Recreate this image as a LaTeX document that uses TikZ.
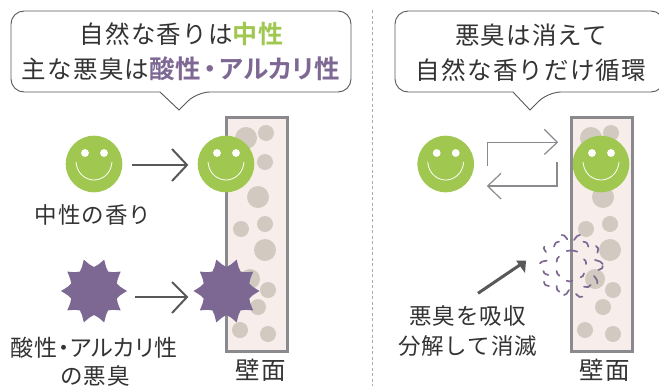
\documentclass[tikz,border=0pt]{standalone}
\usepackage{fontspec}
\newfontfamily\jp[LetterSpace=5]{Noto Sans CJK JP}
\newfontfamily\jpsm[LetterSpace=4]{Noto Sans CJK JP}
\newfontfamily\jppal[RawFeature=+palt,LetterSpace=2.5]{Noto Sans CJK JP}
\newfontfamily\jpb[BoldFont={Noto Sans CJK JP Bold},RawFeature=+palt,LetterSpace=2]{Noto Sans CJK JP}
\definecolor{leaf}{HTML}{A0C850}
\definecolor{odor}{HTML}{7D6894}
\definecolor{inkc}{HTML}{333333}
\definecolor{wallc}{HTML}{F7EEEB}
\definecolor{frame}{HTML}{8A8A8E}
\definecolor{grain}{HTML}{D2CAC0}
\definecolor{arrowc}{HTML}{58585A}
\tikzset{
  x=1pt,y=-1pt,
  bubble/.style={draw=arrowc,line width=0.9pt,fill=white},
  lab/.style={inner sep=0pt,text=inkc,anchor=center},
  head/.style={font=\jp\fontsize{24.5}{24.5}\selectfont},
  small/.style={font=\jpsm\fontsize{22.5}{22.5}\selectfont},
  flow/.style={draw=arrowc,line width=2pt},
  thin flow/.style={draw=frame,line width=1.2pt},
  wisp/.style={draw=odor,line width=1.7pt,line cap=round},
  smiley/.pic={
    \fill[leaf] (0,0) circle[radius=28.3];
    \fill[white] (-9,-11) circle[radius=3.9] (10,-11) circle[radius=3.9];
    \draw[white,line width=0.8pt] (-18,-2) .. controls (-17,10) and (-8,16) .. (0,16) .. controls (8,16) and (17,10) .. (18,-2);
  },
  burst/.pic={
    \fill[odor] (0:33)
      \foreach \a in {0,36,...,324}{
        .. controls (\a+10:26) .. (\a+18:24) .. controls (\a+26:26) .. (\a+36:33)
      } -- cycle;
  }
}
\newcommand{\grains}[1]{%
  \begin{scope}[xshift=#1]
  \fill[grain]
    (246,138) circle[radius=11] (266,133) circle[radius=8]
    (265,162) circle[radius=8] (258,197) circle[radius=11]
    (241,229) circle[radius=8] (265,224) circle[radius=8]
    (265,250) circle[radius=11] (250,279) circle[radius=10]
    (268,290) circle[radius=8] (258,307) circle[radius=8]
    (240,330) circle[radius=8] (268,334) circle[radius=8];
  \end{scope}}
\begin{document}
\begin{tikzpicture}
\useasboundingbox (0,0) rectangle (659,386);
\clip (0,0) rectangle (659,386);
% divider
\coordinate (divtop) at (372.5,10);
\coordinate (divbot) at (372.5,386);
\draw[draw=frame!70,line width=0.7pt,dash pattern=on 3pt off 2.5pt] (divtop) -- (divbot);
% bubbles
\draw[bubble,rounded corners=13pt] (160,92) -- (11,92) -- (11,11) -- (351,11) -- (351,92) -- (197,92) [sharp corners] -- (179,110) -- cycle;
\draw[bubble,rounded corners=13pt] (513,92) -- (395,92) -- (395,11) -- (664,11) -- (664,92) -- (548,92) [sharp corners] -- (530,110) -- cycle;
\node[lab,head] (l1) at (181.5,34) {自然な香りは{\jpb\bfseries\fontsize{25}{25}\selectfont\color{leaf}中性}};
\node[lab,head] (l2) at (181,69) {主な悪臭は{\jpb\bfseries\fontsize{25.5}{25.5}\selectfont\color{odor}酸性\kern3pt・\kern3ptアルカリ性}};
\node[lab,head] (r1) at (531,35) {悪臭は消えて};
\node[lab,head] (r2) at (531,70) {自然な香りだけ循環};
% walls
\draw[fill=wallc,draw=frame,line width=3pt] (226.5,117.5) rectangle (287.5,351);
\draw[fill=wallc,draw=frame,line width=3pt] (571.5,117.5) rectangle (632.5,351);
\grains{0pt}
\grains{345pt}
% left panel
\pic at (94,164) {smiley};
\pic at (226,164) {smiley};
\coordinate (a1s) at (132,165); \coordinate (a1e) at (187,165);
\draw[flow] (a1s) -- (a1e);
\draw[flow] (172,149) -- (a1e) -- (172,181);
\node[lab,small] (neutral) at (93,215) {中性の香り};
\pic at (94,291) {burst};
\pic at (226.5,291) {burst};
\coordinate (a2s) at (135,297); \coordinate (a2e) at (187,297);
\draw[flow] (a2s) -- (a2e);
\draw[flow] (172,282) -- (a2e) -- (172,313);
\node[lab,font=\jppal\fontsize{23}{23}\selectfont] (acid) at (94,348) {酸性・アルカリ性};
\node[lab,small] (acid2) at (95,376) {の悪臭};
\node[lab,font=\jp\fontsize{24.5}{24.5}\selectfont] (wall1) at (260.5,370) {壁面};
% right panel
\pic at (445.7,164) {smiley};
\pic at (601,164) {smiley};
\coordinate (c1s) at (487.7,165.7); \coordinate (c1e) at (557.3,142.3);
\draw[thin flow] (c1s) |- (c1e);
\draw[thin flow] (544.3,129.3) -- (c1e) -- (544.3,154.5);
\coordinate (c2s) at (557,161.7); \coordinate (c2e) at (487.7,186);
\draw[thin flow] (c2s) |- (c2e);
\draw[thin flow] (501,173.3) -- (c2e) -- (501,199);
\coordinate (bs) at (478,293.3); \coordinate (be) at (526,260.7);
\draw[arrowc,line width=3pt] (bs) -- (522,263.5);
\fill[arrowc] (be) -- (516,260.5) -- (525,273) -- cycle;
% fading odour
\foreach \xa/\ya/\xb/\yb in {
 575/135/592/148, 612/150/630/135, 640/155/655/170, 678/168/682/188,
 590/183/622/185, 552/170/567/155, 523/170/528/186, 510/220/530/212,
 560/215/567/200, 642/208/648/222, 675/210/698/222, 698/228/685/240,
 520/243/535/255, 560/243/568/257, 632/262/642/250, 590/272/607/272,
 672/258/682/280, 642/290/662/285, 522/275/537/288, 560/288/568/305,
 582/315/597/300, 618/312/637/320}{
  \draw[wisp] ({370+\xa/3},{190+\ya/3})
    .. controls ({370+(\xa+\xb)/6+((\xa+\xb)/2-600)*0.025},{190+(\ya+\yb)/6+((\ya+\yb)/2-230)*0.025}) ..
    ({370+\xb/3},{190+\yb/3});
}
\node[lab,small] (gone1) at (467.5,316) {悪臭を吸収};
\node[lab,small] (gone2) at (467.5,346) {分解して消滅};
\node[lab,font=\jp\fontsize{24.5}{24.5}\selectfont] (wall2) at (604.5,370) {壁面};
\end{tikzpicture}
\end{document}
